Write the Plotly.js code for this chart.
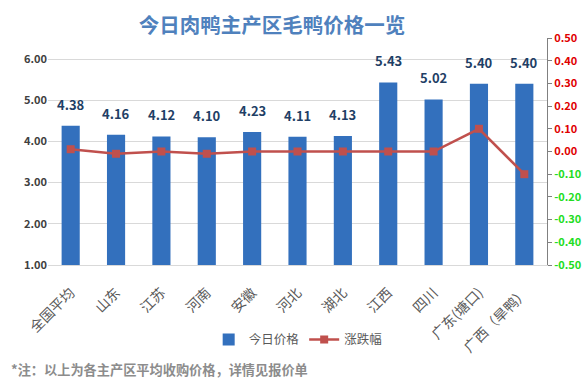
<!DOCTYPE html>
<html><head><meta charset="utf-8">
<script src="https://cdn.plot.ly/plotly-3.0.1.min.js"></script>
<style>html,body{margin:0;padding:0;background:#fff}#c{width:588px;height:392px}</style>
</head><body><div id="c"></div>
<script>
const categories = ["全国平均","山东","江苏","河南","安徽","河北","湖北","江西","四川","广东(塘口)","广西（旱鸭）"];
const prices = [4.38,4.16,4.12,4.10,4.23,4.11,4.13,5.43,5.02,5.40,5.40];
const changes = [0.01,-0.01,0.00,-0.01,0.00,0.00,0.00,0.00,0.00,0.10,-0.10];
const leftTicks = [1,2,3,4,5,6];
const rightTicks = [-0.5,-0.4,-0.3,-0.2,-0.1,0,0.1,0.2,0.3,0.4,0.5];

const F = '"Noto Sans CJK SC", "Noto Sans", sans-serif';
const rightText = rightTicks.map(v => {
  const c = v < 0 ? '#22dd22' : '#e00000';
  return '<span style="color:' + c + '"><b>' + v.toFixed(2) + '</b></span>';
});

const traces = [
  {type:'bar', name:'今日价格', x:categories, y:prices, base:0, width:0.4,
   marker:{color:'#3370bd', line:{width:0}}, hoverinfo:'x+y', yaxis:'y'},
  {type:'scatter', mode:'lines+markers', name:'涨跌幅', x:categories, y:changes, yaxis:'y2',
   line:{color:'#c0504d', width:2.5}, marker:{symbol:'square', size:8, color:'#c0504d'}}
];

const annotations = categories.map((c,i) => ({
  x:c, y:prices[i], xref:'x', yref:'y', text:'<b>'+prices[i].toFixed(2)+'</b>',
  showarrow:false, yanchor:'bottom', yshift:10,
  font:{family:F, size:13, color:'#1f3f66'}
}));
annotations.push({xref:'paper', yref:'paper', x:-0.078, y:-0.46, xanchor:'left', yanchor:'middle',
  text:'<b>*注：以上为各主产区平均收购价格，详情见报价单</b>', showarrow:false,
  font:{family:F, size:13.2, color:'#8c8c8c'}});

const layout = {
  width:588, height:392,
  margin:{l:48, r:41, t:38, b:127},
  paper_bgcolor:'#fff', plot_bgcolor:'#fff',
  font:{family:F, color:'#595959'},
  title:{text:'<b>今日肉鸭主产区毛鸭价格一览</b>', x:272/588, xanchor:'center', y:0.934, yanchor:'middle',
         font:{family:F, size:20.5, color:'#4f81bd'}, automargin:false},
  showlegend:true,
  legend:{orientation:'h', x:0.322, xanchor:'left', y:-0.33, yanchor:'middle',
          font:{family:F, size:12.5, color:'#595959'}},
  bargap:0.6,
  xaxis:{type:'category', range:[-0.5, categories.length-0.5], tickangle:-45, ticklabelstandoff:13,
         tickfont:{family:F, size:14, color:'#595959'}, automargin:false,
         showline:true, linecolor:'#d9d9d9', linewidth:1, ticks:'', showgrid:false},
  yaxis:{range:[1,6.51], tickvals:leftTicks, ticktext:leftTicks.map(v=>'<b>'+v.toFixed(2)+'</b>'), automargin:false,
         showgrid:true, gridcolor:'#d9d9d9', gridwidth:1, zeroline:false, showline:false,
         tickfont:{family:F, size:11, color:'#404040'}, ticks:'', ticklen:0},
  yaxis2:{overlaying:'y', side:'right', range:[-0.5,0.5], tickvals:rightTicks, ticktext:rightText, automargin:false,
          showgrid:false, zeroline:false, showline:true, linecolor:'#808080', linewidth:1,
          ticks:'outside', ticklen:4, tickcolor:'#808080', tickfont:{family:F, size:11}},
  annotations:annotations
};
Plotly.newPlot('c', traces, layout, {staticPlot:true});
</script></body></html>
